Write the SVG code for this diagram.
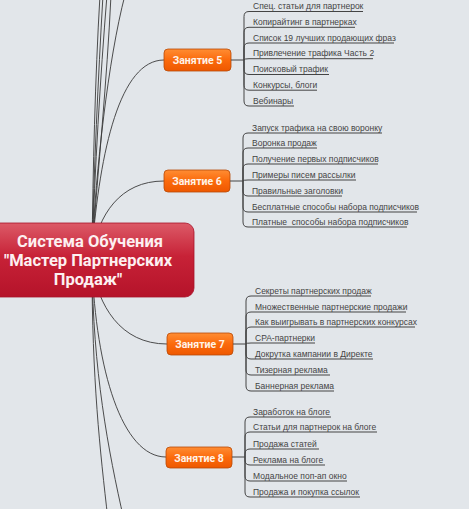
<svg xmlns="http://www.w3.org/2000/svg" width="469" height="509" viewBox="0 0 469 509">
<defs>
<linearGradient id="gRed" x1="0" y1="0" x2="0" y2="1">
<stop offset="0" stop-color="#dc5a67"/>
<stop offset="0.45" stop-color="#c72237"/>
<stop offset="1" stop-color="#b5132a"/>
</linearGradient>
<linearGradient id="gOr" x1="0" y1="0" x2="0" y2="1">
<stop offset="0" stop-color="#ff8d33"/>
<stop offset="0.5" stop-color="#fb6a0c"/>
<stop offset="1" stop-color="#ee5800"/>
</linearGradient>
<style>
.bg{fill:#e2e6ea}
.conn path{fill:none;stroke:#3a3a3a;stroke-width:0.9}
.br path{fill:none;stroke:#444;stroke-width:1}
.lesson rect{fill:url(#gOr);stroke:#b84a08;stroke-width:0.8}
.lesson text{font-family:Roboto,"Liberation Sans",sans-serif;font-weight:bold;font-size:10.5px;fill:#fff3e8;text-anchor:middle}
.item text{font-family:"Liberation Sans",Arial,sans-serif;font-size:8.5px;fill:#444}
.central text{font-family:Roboto,"Liberation Sans",sans-serif;font-weight:bold;font-size:16.5px;fill:#fdf0f1;text-anchor:middle}
</style>
</defs>
<rect class="bg" x="0" y="0" width="469" height="509"/>

<g id="connectors" class="conn">
<path d="M92,250 C93,170 95,80 100,-5"/>
<path d="M92,250 C94,170 98,80 103,-5"/>
<path d="M92,250 C95,170 100,80 107,-5"/>
<path d="M92,250 C98,170 107,80 111,-5"/>
<path d="M92,250 C96,170 108,60 125,-5"/>
<path d="M92,250 C100,150 120,60 164,60"/>
<path d="M92,255 C98,215 120,181 164,181"/>
<path d="M92,265 C98,305 120,344 167,344"/>
<path d="M92,265 C96,370 122,457 166,457"/>
<path d="M92,265 C92,380 100,450 108,520"/>
<path d="M92,265 C93,370 108,450 124,520"/>
</g>

<g id="central" class="central">
<rect x="-12" y="223" width="206" height="74" rx="9" fill="url(#gRed)" stroke="#a8122a" stroke-width="0.8"/>
<text x="90" y="247">Система Обучения</text>
<text x="88" y="266">"Мастер Партнерских</text>
<text x="88" y="285">Продаж"</text>
</g>

<g id="lesson5" class="lesson">
<rect x="164" y="49" width="67" height="22" rx="4"/>
<text x="197.5" y="64">Занятие 5</text>
</g>
<g id="lesson6" class="lesson">
<rect x="164" y="170" width="66" height="22" rx="4"/>
<text x="197" y="185">Занятие 6</text>
</g>
<g id="lesson7" class="lesson">
<rect x="167" y="333" width="66" height="22" rx="4"/>
<text x="200" y="348">Занятие 7</text>
</g>
<g id="lesson8" class="lesson">
<rect x="166" y="447" width="66" height="21" rx="4"/>
<text x="199" y="461.5">Занятие 8</text>
</g>

<g id="branches" class="br">
<path d="M231,60 H244"/>
<path d="M244,60 V16.5 Q244,11.5 249,11.5 H363"/>
<path d="M244,60 V32.3 Q244,27.3 249,27.3 H355"/>
<path d="M244,60 V48 Q244,43 249,43 H394"/>
<path d="M244,60 Q244,58.7 249,58.7 H373"/>
<path d="M244,60 V69.5 Q244,74.5 249,74.5 H329"/>
<path d="M244,60 V85.2 Q244,90.2 249,90.2 H317"/>
<path d="M244,60 V101 Q244,106 249,106 H294"/>

<path d="M230,181 H243"/>
<path d="M243,181 V138 Q243,133 248,133 H382"/>
<path d="M243,181 V153 Q243,148 248,148 H317"/>
<path d="M243,181 V169 Q243,164 248,164 H378"/>
<path d="M243,181 Q243,180 248,180 H356"/>
<path d="M243,181 V191 Q243,196 248,196 H342"/>
<path d="M243,181 V207 Q243,212 248,212 H417"/>
<path d="M243,181 V222 Q243,227 248,227 H407"/>

<path d="M233,344 H246"/>
<path d="M246,344 V301 Q246,296 251,296 H371"/>
<path d="M246,344 V317 Q246,312 251,312 H406"/>
<path d="M246,344 V332 Q246,327 251,327 H415"/>
<path d="M246,344 Q246,343 251,343 H315"/>
<path d="M246,344 V354 Q246,359 251,359 H373"/>
<path d="M246,344 V370 Q246,375 251,375 H330"/>
<path d="M246,344 V386 Q246,391 251,391 H334"/>

<path d="M232,457 H245"/>
<path d="M245,457 V422 Q245,417 250,417 H331"/>
<path d="M245,457 V437 Q245,432 250,432 H377"/>
<path d="M245,457 V454 Q245,449 250,449 H319"/>
<path d="M245,457 V460 Q245,465 250,465 H325"/>
<path d="M245,457 V476 Q245,481 250,481 H347"/>
<path d="M245,457 V492 Q245,497 250,497 H360"/>
</g>

<g id="items5" class="item">
<text x="253" y="9">Спец. статьи для партнерок</text>
<text x="253" y="24.8">Копирайтинг в партнерках</text>
<text x="253" y="40.5">Список 19 лучших продающих фраз</text>
<text x="253" y="56.2">Привлечение трафика Часть 2</text>
<text x="253" y="72">Поисковый трафик</text>
<text x="253" y="87.7">Конкурсы, блоги</text>
<text x="253" y="103.5">Вебинары</text>
</g>
<g id="items6" class="item">
<text x="252" y="130.5">Запуск трафика на свою воронку</text>
<text x="252" y="145.5">Воронка продаж</text>
<text x="252" y="161.5">Получение первых подписчиков</text>
<text x="252" y="177.5">Примеры писем рассылки</text>
<text x="252" y="193.5">Правильные заголовки</text>
<text x="252" y="209.5">Бесплатные способы набора подписчиков</text>
<text x="252" y="224.5" style="white-space:pre">Платные  способы набора подписчиков</text>
</g>
<g id="items7" class="item">
<text x="255" y="293.5">Секреты партнерских продаж</text>
<text x="255" y="309.5">Множественные партнерские продажи</text>
<text x="255" y="324.5">Как выигрывать в партнерских конкурсах</text>
<text x="255" y="340.5">CPA-партнерки</text>
<text x="255" y="356.5">Докрутка кампании в Директе</text>
<text x="255" y="372.5">Тизерная реклама</text>
<text x="255" y="388.5">Баннерная реклама</text>
</g>
<g id="items8" class="item">
<text x="253" y="414.5">Заработок на блоге</text>
<text x="253" y="429.5">Статьи для партнерок на блоге</text>
<text x="253" y="446.5">Продажа статей</text>
<text x="253" y="462.5">Реклама на блоге</text>
<text x="253" y="478.5">Модальное поп-ап окно</text>
<text x="253" y="494.5">Продажа и покупка ссылок</text>
</g>
</svg>
